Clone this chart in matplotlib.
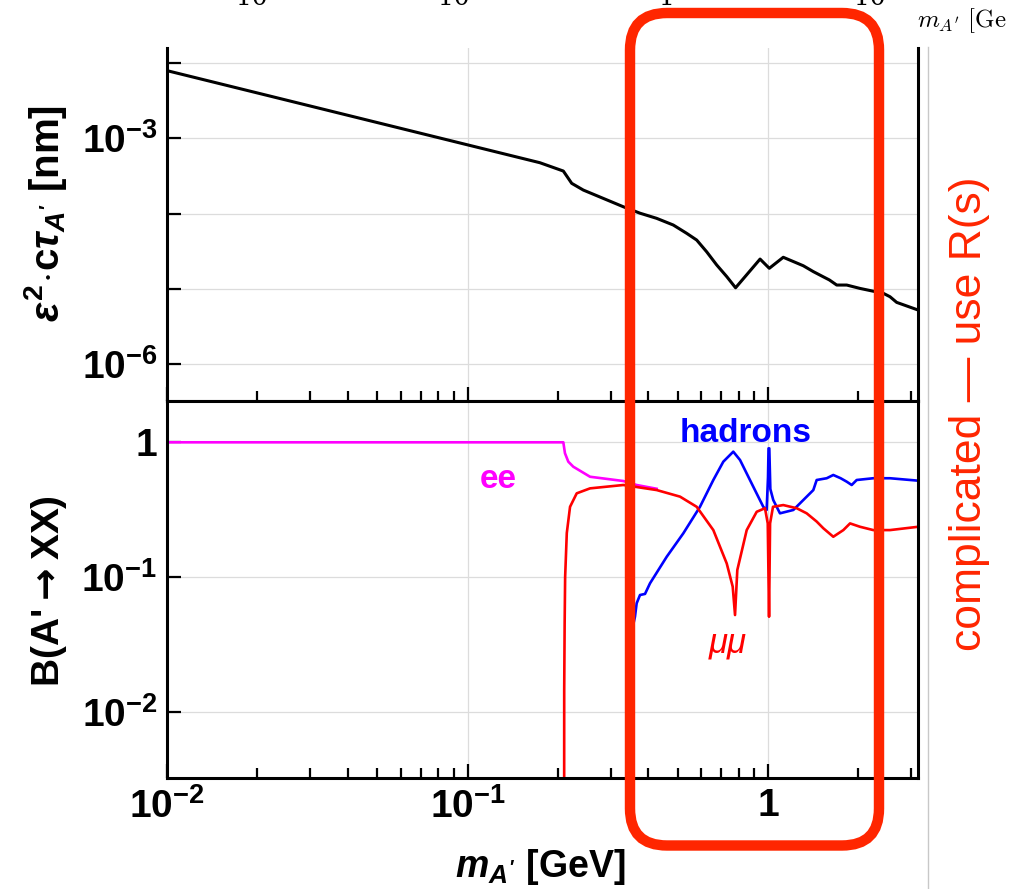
import numpy as np
import matplotlib
matplotlib.use("Agg")
import matplotlib.pyplot as plt
from matplotlib.ticker import FixedLocator, FixedFormatter, LogLocator, NullLocator, NullFormatter
from matplotlib.patches import FancyBboxPatch
from matplotlib.lines import Line2D

plt.rcParams["font.family"] = ["Liberation Sans", "DejaVu Sans"]
plt.rcParams["font.weight"] = "bold"
plt.rcParams["mathtext.fontset"] = "custom"
plt.rcParams["mathtext.rm"] = "Liberation Sans:bold"
plt.rcParams["mathtext.it"] = "Liberation Sans:bold:italic"
plt.rcParams["mathtext.bf"] = "Liberation Sans:bold"
plt.rcParams["mathtext.sf"] = "Liberation Sans:bold"

# ---- data ----
# top panel: eps^2 * c tau [nm] vs m_A' [GeV]
ctau_mass = [0.01, 0.174, 0.2084, 0.2222, 0.2429, 0.330, 0.375, 0.426, 0.484, 0.536,
             0.579, 0.625, 0.675, 0.729, 0.78, 0.941, 1.01, 1.124, 1.311, 1.415,
             1.528, 1.60, 1.693, 1.828, 2.024, 2.42, 2.547, 2.68, 3.16]
ctau_val = [7.93e-3, 4.74e-4, 3.67e-4, 2.52e-4, 2.05e-4, 1.23e-4, 1.01e-4, 8.63e-5, 7.03e-5, 5.46e-5,
            4.44e-5, 3.10e-5, 2.07e-5, 1.45e-5, 1.03e-5, 2.48e-5, 1.87e-5, 2.62e-5, 2.02e-5, 1.69e-5,
            1.44e-5, 1.31e-5, 1.12e-5, 1.12e-5, 1.01e-5, 8.69e-6, 7.83e-6, 6.59e-6, 5.21e-6]

# bottom panel: branching ratios
ee_mass = [0.01, 0.2084, 0.2110, 0.2165, 0.2249, 0.2557, 0.330, 0.3655, 0.426]
ee_br = [1.0, 1.0, 0.83, 0.718, 0.659, 0.555, 0.516, 0.482, 0.452]

mumu_mass = [0.2096, 0.2098, 0.2105, 0.2113, 0.2140, 0.2194, 0.2309, 0.2557, 0.330, 0.4263,
             0.5096, 0.579, 0.6577, 0.7289, 0.7630, 0.7767, 0.7904, 0.8494, 0.917, 0.9772,
             0.998, 1.008, 1.016, 1.039, 1.124, 1.246, 1.345, 1.452, 1.528, 1.649,
             1.781, 1.875, 2.024, 2.241, 2.547, 3.16]
mumu_br = [1e-4, 0.0145, 0.045, 0.10, 0.212, 0.332, 0.418, 0.455, 0.482, 0.442,
           0.395, 0.332, 0.223, 0.126, 0.0848, 0.0522, 0.1127, 0.223, 0.305, 0.324,
           0.250, 0.0507, 0.250, 0.332, 0.342, 0.324, 0.297, 0.258, 0.230, 0.199,
           0.223, 0.250, 0.236, 0.223, 0.223, 0.236]

had_mass = [0.3527, 0.3608, 0.3655, 0.375, 0.3897, 0.4049, 0.4603, 0.5226, 0.5937, 0.6577,
            0.710, 0.7664, 0.807, 0.8933, 0.9645, 0.9897, 1.000, 1.004, 1.010, 1.018,
            1.041, 1.096, 1.214, 1.311, 1.415, 1.452, 1.568, 1.649, 1.745, 1.828,
            1.899, 1.973, 2.241, 2.547, 3.16]
had_br = [0.040, 0.0507, 0.0638, 0.0735, 0.0749, 0.0898, 0.1415, 0.211, 0.332, 0.525,
          0.718, 0.852, 0.739, 0.468, 0.332, 0.3145, 0.55, 0.902, 0.902, 0.45,
          0.373, 0.297, 0.3145, 0.373, 0.442, 0.525, 0.541, 0.572, 0.541, 0.510,
          0.482, 0.525, 0.541, 0.541, 0.519]

x_ticks = [0.01, 0.1, 1]
x_tick_labels = [r"$10^{-2}$", r"$10^{-1}$", "1"]
ctau_ticks = [1e-6, 1e-5, 1e-4, 1e-3, 1e-2]
ctau_tick_labels = [r"$10^{-6}$", "", "", r"$10^{-3}$", ""]
br_ticks = [0.01, 0.1, 1]
br_tick_labels = [r"$10^{-2}$", r"$10^{-1}$", "1"]

W, H = 1025, 889
BOX_RED = "#ff2600"


def style_axis(ax):
    ax.set_xscale("log")
    ax.set_yscale("log")
    ax.set_xlim(0.01, 3.156)
    ax.xaxis.set_major_locator(FixedLocator(x_ticks))
    ax.xaxis.set_minor_locator(LogLocator(base=10, subs=np.arange(2, 10)))
    ax.xaxis.set_minor_formatter(NullFormatter())
    ax.yaxis.set_minor_locator(NullLocator())
    ax.tick_params(which="both", direction="in", width=1.6, color="black",
                   top=False, right=False, labelsize=28)
    ax.tick_params(which="major", length=10, pad=7)
    ax.tick_params(which="minor", length=7)
    ax.grid(True, which="major", color="#dcdcdc", lw=0.9)
    ax.set_axisbelow(True)
    for side in ["left", "right", "bottom", "top"]:
        ax.spines[side].set_linewidth(2.2)
        ax.spines[side].set_color("black")


fig = plt.figure(figsize=(W / 100, H / 100), dpi=100)
ax_top = fig.add_axes([167 / W, 1 - 401 / H, (918 - 167) / W, (401 - 48) / H])
ax_bot = fig.add_axes([167 / W, 1 - 778 / H, (918 - 167) / W, (778 - 401) / H])

# top panel
ax_top.plot(ctau_mass, ctau_val, color="black", lw=2.2)
style_axis(ax_top)
ax_top.set_ylim(3.22e-7, 1.586e-2)
ax_top.spines["top"].set_visible(False)
ax_top.yaxis.set_major_locator(FixedLocator(ctau_ticks))
ax_top.yaxis.set_major_formatter(FixedFormatter(ctau_tick_labels))
ax_top.xaxis.set_major_formatter(NullFormatter())

# bottom panel
ax_bot.plot(ee_mass, ee_br, color="#ff00ff", lw=1.9)
ax_bot.plot(had_mass, had_br, color="#0000ff", lw=1.9)
ax_bot.plot(mumu_mass, mumu_br, color="#ff0000", lw=1.9)
style_axis(ax_bot)
ax_bot.set_ylim(3.22e-3, 2.026)
ax_bot.yaxis.set_major_locator(FixedLocator(br_ticks))
ax_bot.yaxis.set_major_formatter(FixedFormatter(br_tick_labels))
ax_bot.xaxis.set_major_formatter(FixedFormatter(x_tick_labels))

ax_bot.text(0.841, 1.17, "hadrons", color="#0000ff", fontsize=24,
            fontweight="bold", ha="center", va="center")
ax_bot.text(0.1264, 0.534, "ee", color="#ff00ff", fontsize=24,
            fontweight="bold", ha="center", va="center")
ax_bot.text(0.736, 0.0324, "μμ", color="#ff0000", fontsize=25,
            fontweight="normal", fontstyle="italic", ha="center", va="center")

# axis labels
fig.text(45.5 / W, 1 - 213.5 / H, r"$\varepsilon^{2}\!\cdot\!\mathbf{c}\tau_{A'}$ [nm]",
         rotation=90, ha="center", va="center", fontsize=29, fontweight="bold")
fig.text(49 / W, 1 - 591.5 / H, r"B(A'$\rightarrow$XX)", rotation=90, ha="center",
         va="center", fontsize=28, fontweight="bold", math_fontfamily="dejavusans")
fig.text(540.5 / W, 1 - 877 / H, r"$m_{A'}$ [GeV]", ha="center", va="baseline",
         fontsize=27, fontweight="bold")

# leftovers of the slide around the plot
for xp, s in [(252, "10"), (454, "10"), (667, "1"), (870, "10")]:
    fig.text(xp / W, 1 - 5 / H, s, ha="center", va="baseline", fontsize=18,
             family="DejaVu Serif", fontweight="normal")
fig.text(917 / W, 1 - 27 / H, r"$m_{A'}\ [\mathrm{Ge}$", ha="left", va="baseline",
         fontsize=18, math_fontfamily="cm", fontweight="normal")
fig.add_artist(Line2D([928 / W, 928 / W], [0, 1 - 47 / H], transform=fig.transFigure,
                      color="#c8c8c8", lw=1.0))

# red rounded box and note
box = FancyBboxPatch((6.30, 0.435), 8.79 - 6.30, 8.76 - 0.435,
                     boxstyle="round,pad=0,rounding_size=0.37",
                     transform=fig.dpi_scale_trans, fill=False,
                     ec=BOX_RED, lw=7.5, zorder=10)
fig.add_artist(box)
fig.text(970 / W, 1 - 414 / H, "complicated — use R(s)", rotation=90,
         ha="center", va="center", fontsize=32, color=BOX_RED, fontweight="normal")

fig.savefig("out.png", dpi=100)
